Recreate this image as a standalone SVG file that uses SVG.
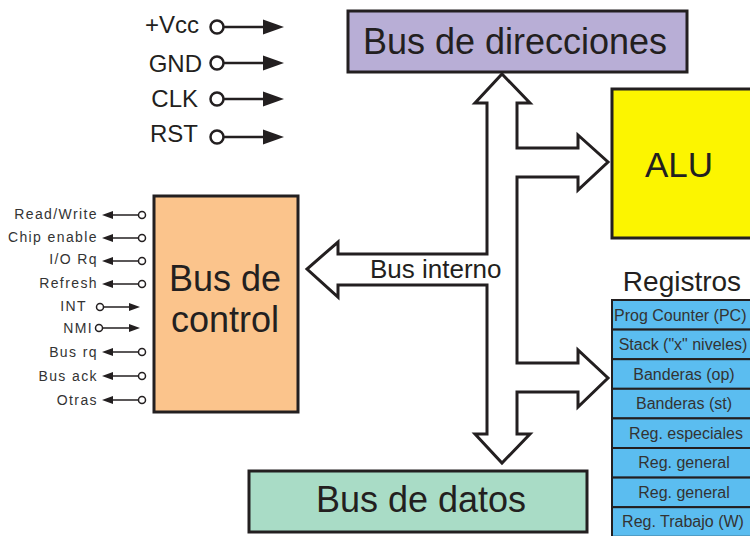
<svg xmlns="http://www.w3.org/2000/svg" width="750" height="536" viewBox="0 0 750 536">
<style>
  text { font-family: "Liberation Sans", Arial, sans-serif; fill: #231f20; }
  .box { stroke: #231f20; stroke-width: 3; }
  .big { font-size: 36px; text-anchor: middle; }
  .pwr { font-size: 24px; text-anchor: end; }
  .sig { font-size: 14px; text-anchor: end; letter-spacing: 1.4px; fill: #333; }
  .reg { font-size: 16px; text-anchor: middle; fill: #333; }
  .row { fill: #5bbdf0; stroke: #231f20; stroke-width: 2; }
  .ln { stroke: #231f20; stroke-width: 2.5; fill: none; }
  .sln { stroke: #231f20; stroke-width: 1.5; fill: none; }
  .circ { fill: #fff; stroke: #231f20; stroke-width: 2.5; }
  .scirc { fill: #fff; stroke: #231f20; stroke-width: 1.5; }
  .head { fill: #231f20; }
</style>
<rect width="750" height="536" fill="#ffffff"/>

<g id="bus-direcciones">
  <rect class="box" x="348" y="11" width="339" height="61" fill="#b8aed6"/>
  <text class="big" x="515" y="54">Bus de direcciones</text>
</g>

<g id="alu">
  <rect class="box" x="612" y="89" width="150" height="149" fill="#fcf500"/>
  <text class="big" x="679" y="177" style="font-size:35px">ALU</text>
</g>

<g id="bus-control">
  <rect class="box" x="154" y="196" width="144" height="216" fill="#fbc48c"/>
  <text class="big" x="225" y="291">Bus de</text>
  <text class="big" x="225" y="332">control</text>
</g>

<g id="bus-datos">
  <rect class="box" x="249" y="471" width="338" height="61" fill="#a9dcc6"/>
  <text class="big" x="421" y="512">Bus de datos</text>
</g>

<g id="registros">
  <text x="682" y="291" style="font-size:28px" text-anchor="middle">Registros</text>
  <rect class="row" x="612" y="300" width="150" height="29.6"/>
  <rect class="row" x="612" y="329.6" width="150" height="29.6"/>
  <rect class="row" x="612" y="359.2" width="150" height="29.6"/>
  <rect class="row" x="612" y="388.8" width="150" height="29.6"/>
  <rect class="row" x="612" y="418.4" width="150" height="29.6"/>
  <rect class="row" x="612" y="448" width="150" height="29.6"/>
  <rect class="row" x="612" y="477.6" width="150" height="29.6"/>
  <rect class="row" x="612" y="507.2" width="150" height="29.6"/>
  <text class="reg" x="614" y="321" style="text-anchor:start">Prog Counter (PC)</text>
  <text class="reg" x="683" y="350">Stack ("x" niveles)</text>
  <text class="reg" x="684" y="380">Banderas (op)</text>
  <text class="reg" x="684" y="409">Banderas (st)</text>
  <text class="reg" x="686" y="439">Reg. especiales</text>
  <text class="reg" x="684" y="468">Reg. general</text>
  <text class="reg" x="684" y="498">Reg. general</text>
  <text class="reg" x="683" y="527">Reg. Trabajo (W)</text>
</g>

<g id="power-signals">
  <text class="pwr" x="199" y="33">+Vcc</text>
  <text class="pwr" x="202" y="72">GND</text>
  <text class="pwr" x="198" y="107">CLK</text>
  <text class="pwr" x="198" y="142">RST</text>
</g>

<g id="control-signals">
  <text class="sig" x="98" y="219">Read/Write</text>
  <text class="sig" x="98" y="242">Chip enable</text>
  <text class="sig" x="98" y="264">I/O Rq</text>
  <text class="sig" x="98" y="288">Refresh</text>
  <text class="sig" x="87" y="311">INT</text>
  <text class="sig" x="93" y="333">NMI</text>
  <text class="sig" x="98" y="357">Bus rq</text>
  <text class="sig" x="98" y="381">Bus ack</text>
  <text class="sig" x="98" y="405">Otras</text>
</g>

<g id="connectors">
  <path d="M502,74 L530,103 L517,103 L517,148 L578,148 L578,135 L608,162 L578,190 L578,177 L517,177 L517,363 L578,363 L578,350 L608,378 L578,407 L578,392 L517,392 L517,434 L530,434 L502,463 L475,434 L487,434 L487,285 L338,285 L338,297 L307,269 L338,242 L338,254 L487,254 L487,103 L475,103 Z" fill="#ffffff" stroke="#231f20" stroke-width="3" stroke-linejoin="miter"/>
  <text x="370" y="278" style="font-size:26px">Bus interno</text>

  <g>
    <line class="ln" x1="223" y1="27" x2="266" y2="27"/><polygon class="head" points="284,27 263,19.5 263,34.5"/><circle class="circ" cx="217" cy="27" r="6.5"/>
    <line class="ln" x1="223" y1="63" x2="266" y2="63"/><polygon class="head" points="284,63 263,55.5 263,70.5"/><circle class="circ" cx="217" cy="63" r="6.5"/>
    <line class="ln" x1="223" y1="99" x2="266" y2="99"/><polygon class="head" points="284,99 263,91.5 263,106.5"/><circle class="circ" cx="217" cy="99" r="6.5"/>
    <line class="ln" x1="223" y1="137" x2="266" y2="137"/><polygon class="head" points="284,137 263,129.5 263,144.5"/><circle class="circ" cx="217" cy="137" r="6.5"/>
  </g>

  <g>
    <line class="sln" x1="138" y1="215" x2="110" y2="215"/><polygon class="head" points="102,215 113,211 113,219"/><circle class="scirc" cx="142" cy="215" r="3.5"/>
    <line class="sln" x1="138" y1="238" x2="110" y2="238"/><polygon class="head" points="102,238 113,234 113,242"/><circle class="scirc" cx="142" cy="238" r="3.5"/>
    <line class="sln" x1="138" y1="261" x2="110" y2="261"/><polygon class="head" points="102,261 113,257 113,265"/><circle class="scirc" cx="142" cy="261" r="3.5"/>
    <line class="sln" x1="138" y1="284" x2="110" y2="284"/><polygon class="head" points="102,284 113,280 113,288"/><circle class="scirc" cx="142" cy="284" r="3.5"/>
    <line class="sln" x1="138" y1="352" x2="110" y2="352"/><polygon class="head" points="102,352 113,348 113,356"/><circle class="scirc" cx="142" cy="352" r="3.5"/>
    <line class="sln" x1="138" y1="376" x2="110" y2="376"/><polygon class="head" points="102,376 113,372 113,380"/><circle class="scirc" cx="142" cy="376" r="3.5"/>
    <line class="sln" x1="138" y1="400" x2="110" y2="400"/><polygon class="head" points="102,400 113,396 113,404"/><circle class="scirc" cx="142" cy="400" r="3.5"/>
  </g>
  <g>
    <line class="sln" x1="104" y1="307" x2="132" y2="307"/><polygon class="head" points="140,307 129,303 129,311"/><circle class="scirc" cx="100" cy="307" r="3.5"/>
    <line class="sln" x1="103" y1="328" x2="132" y2="328"/><polygon class="head" points="140,328 129,324 129,332"/><circle class="scirc" cx="99" cy="328" r="3.5"/>
  </g>
</g>
</svg>
